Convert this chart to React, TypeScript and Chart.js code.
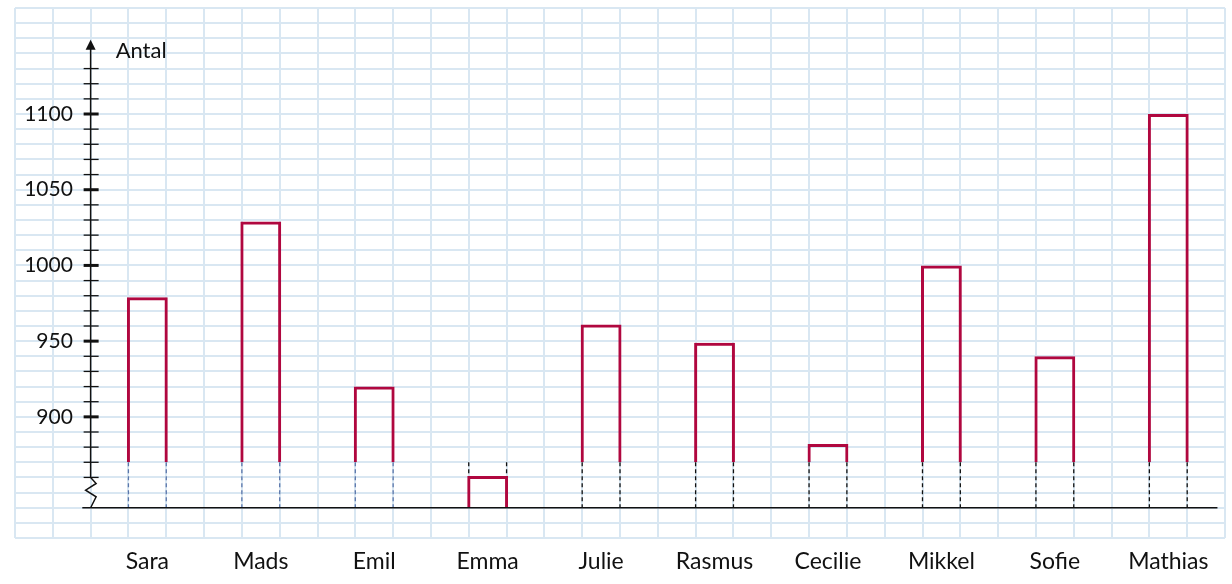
import { useEffect, useRef } from "react";
import { Chart, registerables } from "chart.js";

Chart.register(...registerables);

// ---- data ----
const names = ["Sara", "Mads", "Emil", "Emma", "Julie", "Rasmus", "Cecilie", "Mikkel", "Sofie", "Mathias"];
const values = [979, 1029, 920, 861, 961, 949, 882, 1000, 940, 1100];
const yTickLabels = [900, 950, 1000, 1050, 1100];
const axisTitle = "Antal";

// ---- scale set-up ----
const Y_MIN = 820;
const Y_MAX = 1170;
const Y_STEP = 10;
const BASELINE = 840;
const BREAK_VALUE = 870;
const ZIG_TOP = 860;
const ARROW_TOP = 1149;
const TICK_FROM = 860;
const TICK_TO = 1130;
const X_MIN = 0;
const X_MAX = 32;
const AXIS_X = 2;
const LABEL_X = 1.53;
const FIRST_POS = 3.5;
const POS_STEP = 3;
const positions = names.map((_, i) => FIRST_POS + i * POS_STEP);

// ---- styles ----
const FONT = "Lato, 'Open Sans', sans-serif";
const BAR_COLOR = "#b0073f";
const BAR_BORDER = 3;
const GRID_COLOR = "#d9e7f2";
const DASH_BLUE = "#5a76aa";
const DASH_BLACK = "#111111";
const INK = "#111111";

const noPadding = (scale: any) => {
  scale.paddingLeft = 0;
  scale.paddingRight = 0;
  scale.paddingTop = 0;
  scale.paddingBottom = 0;
};

const axesPlugin = {
  id: "mathAxes",
  afterDatasetsDraw(chart: any) {
    const { ctx } = chart;
    const xs = chart.scales.x;
    const ys = chart.scales.y;
    const ax = xs.getPixelForValue(AXIS_X);
    ctx.save();

    // dashed continuations below the break
    const meta = chart.getDatasetMeta(0);
    meta.data.forEach((bar: any, i: number) => {
      const { x, width } = bar.getProps(["x", "width"], true);
      const v = values[i];
      const yTop = ys.getPixelForValue(BREAK_VALUE);
      const yBot = ys.getPixelForValue(v >= BREAK_VALUE ? BASELINE : v);
      ctx.strokeStyle = i < 3 ? DASH_BLUE : DASH_BLACK;
      ctx.lineWidth = 1.3;
      ctx.setLineDash([4, 3]);
      for (const dx of [-1, 1]) {
        const px = x + dx * (width / 2 - BAR_BORDER / 2);
        ctx.beginPath();
        ctx.moveTo(px, yTop);
        ctx.lineTo(px, yBot);
        ctx.stroke();
      }
    });
    ctx.setLineDash([]);

    // baseline (x axis)
    const yb = ys.getPixelForValue(BASELINE);
    ctx.strokeStyle = INK;
    ctx.lineWidth = 1.5;
    ctx.beginPath();
    ctx.moveTo(xs.getPixelForValue(1.78), yb);
    ctx.lineTo(xs.getPixelForValue(31.8), yb);
    ctx.stroke();

    // y axis line with zigzag
    const yTip = ys.getPixelForValue(ARROW_TOP);
    const y0 = ys.getPixelForValue(ZIG_TOP);
    const h = yb - y0;
    ctx.lineWidth = 1.5;
    ctx.beginPath();
    ctx.moveTo(ax, yTip + 8);
    ctx.lineTo(ax, y0);
    ctx.lineTo(ax + 5.5, y0 + 0.2 * h);
    ctx.lineTo(ax - 5, y0 + 0.42 * h);
    ctx.lineTo(ax + 5.5, y0 + 0.64 * h);
    ctx.lineTo(ax, yb);
    ctx.stroke();

    // arrow head
    ctx.fillStyle = INK;
    ctx.beginPath();
    ctx.moveTo(ax, yTip);
    ctx.lineTo(ax - 5, yTip + 10);
    ctx.lineTo(ax + 5, yTip + 10);
    ctx.closePath();
    ctx.fill();

    // tick marks crossing the axis
    for (let v = TICK_FROM; v <= TICK_TO; v += Y_STEP) {
      const py = ys.getPixelForValue(v);
      const major = yTickLabels.includes(v);
      ctx.lineWidth = major ? 3 : 1.3;
      ctx.beginPath();
      ctx.moveTo(ax - 7, py);
      ctx.lineTo(ax + 8, py);
      ctx.stroke();
    }

    // axis title
    ctx.font = `22px ${FONT}`;
    ctx.textAlign = "left";
    ctx.textBaseline = "middle";
    ctx.fillStyle = INK;
    ctx.fillText(axisTitle, ax + 25, ys.getPixelForValue(1141.5));

    ctx.restore();
  },
};

export default function App() {
  const canvasRef = useRef<HTMLCanvasElement | null>(null);

  useEffect(() => {
    if (!canvasRef.current) return;
    const data = values.map((v, i) => ({
      x: positions[i],
      y: v >= BREAK_VALUE ? [BREAK_VALUE, v] : [BASELINE, v],
    }));
    const chart = new Chart(canvasRef.current, {
      type: "bar",
      data: {
        datasets: [
          {
            data: data as any,
            xAxisID: "xl",
            yAxisID: "y",
            backgroundColor: "rgba(0,0,0,0)",
            borderColor: BAR_COLOR,
            borderWidth: { top: BAR_BORDER, left: BAR_BORDER, right: BAR_BORDER, bottom: 0 },
            borderSkipped: false,
            categoryPercentage: 1,
            barPercentage: 0.36,
          } as any,
        ],
      },
      options: {
        animation: false,
        responsive: true,
        maintainAspectRatio: false,
        layout: { padding: { left: 15, top: 8, right: 7, bottom: 46 } },
        plugins: { legend: { display: false }, tooltip: { enabled: false }, title: { display: false } },
        scales: {
          x: {
            type: "linear",
            axis: "x",
            position: { y: Y_MIN } as any,
            min: X_MIN,
            max: X_MAX,
            offset: false,
            afterFit: noPadding,
            ticks: { display: false, stepSize: 1 },
            grid: { color: GRID_COLOR, lineWidth: 2, drawTicks: false, offset: false },
            border: { display: false },
          } as any,
          xl: {
            type: "linear",
            axis: "x",
            position: { y: BASELINE } as any,
            min: X_MIN,
            max: X_MAX,
            offset: false,
            afterFit: noPadding,
            afterBuildTicks: (scale: any) => {
              scale.ticks = positions.map((p) => ({ value: p }));
            },
            ticks: {
              autoSkip: false,
              maxRotation: 0,
              padding: 40,
              color: INK,
              font: { family: FONT, size: 23 },
              callback: (value: any) => {
                const idx = positions.indexOf(Number(value));
                return idx >= 0 ? names[idx] : "";
              },
            },
            grid: { display: false, drawTicks: false, offset: false },
            border: { display: false },
          } as any,
          y: {
            type: "linear",
            axis: "y",
            position: { x: LABEL_X } as any,
            min: Y_MIN,
            max: Y_MAX,
            afterFit: noPadding,
            ticks: {
              stepSize: Y_STEP,
              autoSkip: false,
              padding: 0,
              color: INK,
              font: { family: FONT, size: 21 },
              callback: (value: any) => (yTickLabels.includes(Number(value)) ? String(value) : ""),
            },
            grid: { color: GRID_COLOR, lineWidth: 2, drawTicks: false },
            border: { display: false },
          } as any,
        },
      },
      plugins: [axesPlugin],
    });
    return () => chart.destroy();
  }, []);

  return (
    <div style={{ position: "fixed", left: 0, top: 0, width: 1232, height: 584, background: "#ffffff" }}>
      <canvas ref={canvasRef} />
    </div>
  );
}
